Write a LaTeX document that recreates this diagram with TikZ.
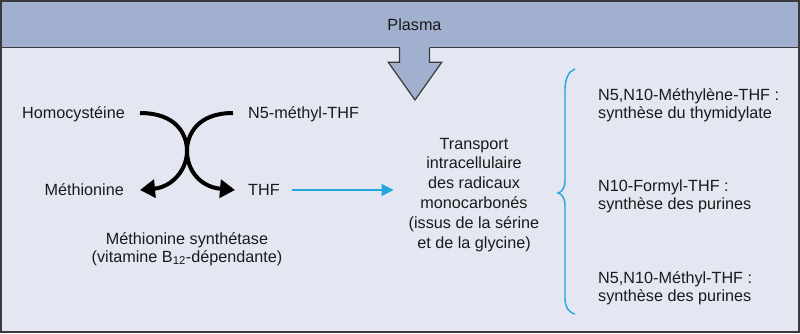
\documentclass[tikz,border=0pt]{standalone}
\usepackage{fontspec}
\setmainfont{Liberation Sans}
\usetikzlibrary{arrows.meta}
\definecolor{bandcol}{HTML}{A2B0D0}
\definecolor{panelcol}{HTML}{E4E7F1}
\definecolor{framecol}{HTML}{3A3A3A}
\definecolor{txtcol}{HTML}{1A1A1A}
\definecolor{cyanline}{HTML}{22A6DD}
\newcommand{\lblfont}{\fontsize{16.2}{18}\selectfont}
\tikzset{
  lbl/.style={inner sep=0pt, text height=11.6pt, text depth=0pt, font=\lblfont, text=txtcol},
  multi/.style={inner sep=0pt, font=\lblfont, text=txtcol},
  curvearrow/.style={line width=4pt, draw=black, -{Triangle[length=15pt,width=18pt]}},
  bluearrow/.style={line width=1.5pt, draw=cyanline, -{Triangle[length=12pt,width=12pt]}},
  bracestyle/.style={line width=1.4pt, draw=cyanline},
  outline/.style={line width=1.2pt, draw=framecol}
}
\begin{document}
\begin{tikzpicture}[x=1pt,y=-1pt]
\useasboundingbox (0,0) rectangle (800,333);
% backgrounds
\fill[panelcol] (0,0) rectangle (800,333);
\fill[bandcol] (0,0) rectangle (800,47.5);
% big arrow
\fill[bandcol] (399.5,46) -- (399.5,62.3) -- (388.3,62.3) -- (415,100) -- (441.7,62.3) -- (429.5,62.3) -- (429.5,46) -- cycle;
\draw[outline, line join=miter] (399.5,47.5) -- (399.5,62.3) -- (388.3,62.3) -- (415,100) -- (441.7,62.3) -- (429.5,62.3) -- (429.5,47.5);
\draw[outline] (0,47.5) -- (399.5,47.5);
\draw[outline] (429.5,47.5) -- (800,47.5);
\draw[framecol, line width=2pt] (1,1) rectangle (799,332);

% texts
\node[multi, anchor=base] (plasma) at (414.5,30) {Plasma};
\node[lbl, anchor=east] (homo) at (125,113) {Homocystéine};
\node[lbl, anchor=west] (n5) at (248,113) {N5-méthyl-THF};
\node[lbl, anchor=east] (meth) at (124,190) {Méthionine};
\node[lbl, anchor=west] (thf) at (248,190) {THF};
\node[multi, align=center, anchor=base] (synth) at (187,262)
  {Méthionine synthétase\\(vitamine B\textsubscript{12}-dépendante)};
\node[multi, align=center, anchor=base, font=\fontsize{16.2}{19.8}\selectfont] (trans) at (474,248)
  {Transport\\intracellulaire\\des radicaux\\monocarbonés\\(issus de la sérine\\et de la glycine)};
\node[multi, align=left, anchor=base west] (r1) at (598,118)
  {N5,N10-Méthylène-THF :\\synthèse du thymidylate};
\node[multi, align=left, anchor=base west] (r2) at (598,209)
  {N10-Formyl-THF :\\synthèse des purines};
\node[multi, align=left, anchor=base west] (r3) at (598,301)
  {N5,N10-Méthyl-THF :\\synthèse des purines};

% crossing curves
\draw[curvearrow] ([xshift=15pt]homo.east) .. controls (176,113) and (187,134) .. (187,151)
  .. controls (187,170) and (172,187) .. ([xshift=16pt]meth.east);
\draw[curvearrow] ([xshift=-15pt]n5.west) .. controls (198,113) and (187,134) .. (187,151)
  .. controls (187,170) and (200,187) .. ([xshift=-13pt]thf.west);

% blue arrow
\draw[bluearrow] ([xshift=12pt]thf.east) -- ([xshift=-15pt]thf.east -| trans.west);

% brace
\draw[bracestyle] (575,69) .. controls (568,71) and (565,80) .. (565,90) -- (565,180)
  .. controls (565,188) and (562,192) .. (558,193)
  .. controls (562,194) and (565,198) .. (565,206) -- (565,298)
  .. controls (565,307) and (568,312) .. (575,314);
\end{tikzpicture}
\end{document}
